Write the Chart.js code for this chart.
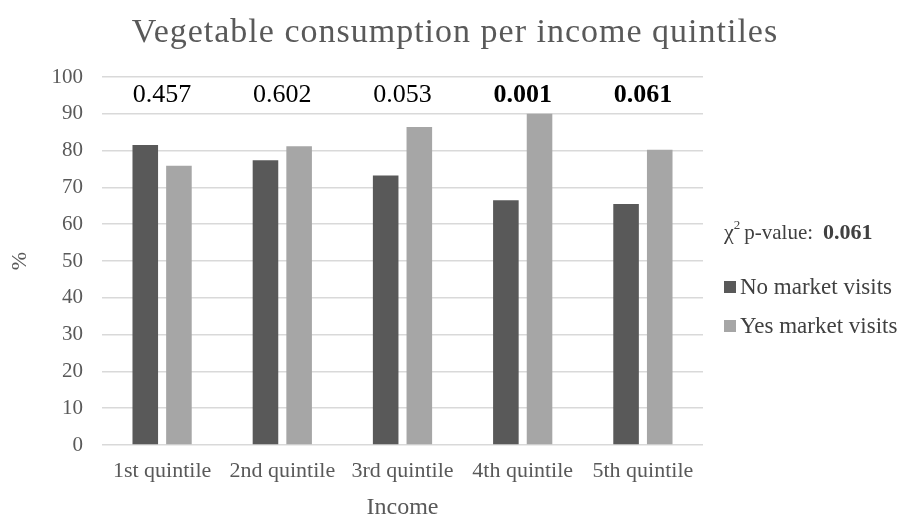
<!DOCTYPE html>
<html>
<head>
<meta charset="utf-8">
<script src="https://cdn.jsdelivr.net/npm/chart.js@4.4.0/dist/chart.umd.min.js"></script>
<style>
  html, body { margin: 0; padding: 0; background: #fff; }
  #wrap { width: 910px; height: 522px; }
</style>
</head>
<body>
<div id="wrap"><canvas id="myChart" width="910" height="522"></canvas></div>
<script>
const categories = ['1st quintile', '2nd quintile', '3rd quintile', '4th quintile', '5th quintile'];
const noVisits = [81.5, 77.4, 73.2, 66.5, 65.5];
const yesVisits = [75.9, 81.2, 86.4, 90, 80.2];
const pValues = ['0.457', '0.602', '0.053', '0.001', '0.061'];
const pBold = [false, false, false, true, true];
const overallP = '0.061';
const yTicks = [0, 10, 20, 30, 40, 50, 60, 70, 80, 90, 100];
const chartTitle = 'Vegetable consumption per income quintiles';

const serif = '"Liberation Serif", "Times New Roman", serif';
const darkGray = '#595959';
const lightGray = '#a6a6a6';
const textGray = '#595959';

// title, p-values above each quintile, and legend on the right
const extras = {
  id: 'extras',
  afterDraw(chart) {
    const ctx = chart.ctx;
    const x = chart.scales.x, y = chart.scales.y;
    ctx.save();
    ctx.textAlign = 'center';
    ctx.textBaseline = 'middle';

    ctx.fillStyle = textGray;
    ctx.font = '34px ' + serif;
    ctx.letterSpacing = '1px';
    ctx.fillText(chartTitle, 455, 33);
    ctx.letterSpacing = '0px';

    ctx.fillStyle = '#000';
    pValues.forEach((p, i) => {
      ctx.font = (pBold[i] ? 'bold ' : '') + '26px ' + serif;
      ctx.fillText(p, x.getPixelForValue(i), y.getPixelForValue(95));
    });

    // legend
    ctx.textAlign = 'left';
    ctx.fillStyle = '#404040';
    let lx = 724, ly = 233;
    ctx.font = '22px ' + serif;
    ctx.fillText('\u03c7', lx, ly);
    let w = ctx.measureText('\u03c7').width;
    ctx.font = '13px ' + serif;
    ctx.fillText('2', lx + w, ly - 7);
    w += ctx.measureText('2').width + 4;
    ctx.font = '21px ' + serif;
    ctx.fillText('p-value:', lx + w, ly);
    w += ctx.measureText('p-value:').width + 10;
    ctx.font = 'bold 22px ' + serif;
    ctx.fillText(overallP, lx + w, ly);

    const items = [['No market visits', darkGray, 287], ['Yes market visits', lightGray, 326]];
    items.forEach(([label, col, cy]) => {
      ctx.fillStyle = col;
      ctx.fillRect(lx, cy - 6, 12, 12);
      ctx.fillStyle = '#404040';
      ctx.font = '23px ' + serif;
      ctx.fillText(label, lx + 16, cy + 1);
    });
    ctx.restore();
  }
};

new Chart(document.getElementById('myChart'), {
  type: 'bar',
  data: {
    labels: categories,
    datasets: [
      { label: 'No market visits', data: noVisits, backgroundColor: darkGray },
      { label: 'Yes market visits', data: yesVisits, backgroundColor: lightGray }
    ]
  },
  options: {
    responsive: false,
    animation: false,
    devicePixelRatio: 1,
    categoryPercentage: 0.56,
    barPercentage: 0.76,
    layout: { padding: { left: 0, right: 207, top: 77, bottom: 0 } },
    plugins: {
      legend: { display: false },
      tooltip: { enabled: false },
      title: { display: false }
    },
    scales: {
      x: {
        grid: { display: false },
        border: { display: false },
        ticks: { color: textGray, font: { family: serif, size: 22 }, padding: 5, maxRotation: 0, autoSkip: false },
        title: { display: true, text: 'Income', color: textGray, font: { family: serif, size: 24 }, padding: { top: 0, bottom: 0 } },
        afterFit(s) { s.height = 77; }
      },
      y: {
        min: 0,
        max: 100,
        afterBuildTicks(s) { s.ticks = yTicks.map(v => ({ value: v })); },
        grid: { color: '#d9d9d9', lineWidth: 1.5, drawTicks: false },
        border: { display: false },
        ticks: { color: textGray, font: { family: serif, size: 21 }, padding: 19 },
        title: { display: true, text: '%', color: textGray, font: { family: serif, size: 22 }, padding: { top: 7, bottom: 0 } },
        afterFit(s) { s.width = 102; }
      }
    }
  },
  plugins: [extras]
});
</script>
</body>
</html>
